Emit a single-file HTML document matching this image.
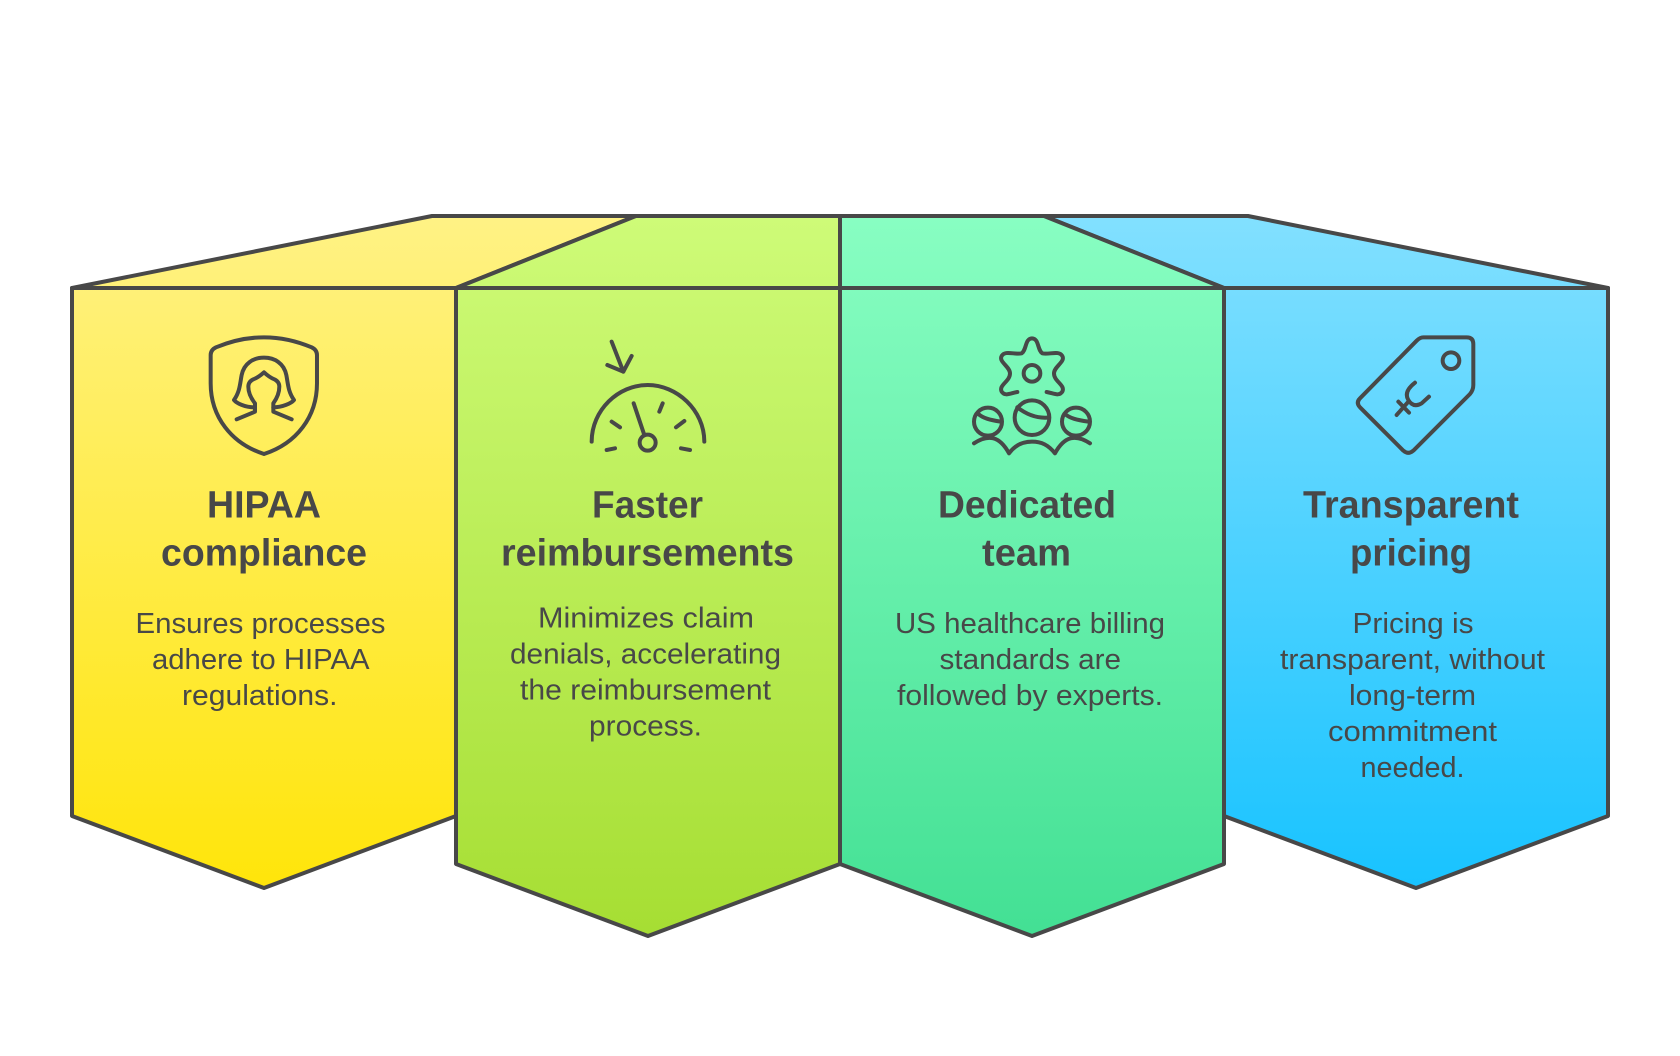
<!DOCTYPE html>
<html><head><meta charset="utf-8"><style>html,body{margin:0;padding:0;background:#fff;width:1680px;height:1056px;overflow:hidden}svg{display:block}text{font-family:"Liberation Sans",sans-serif;fill:#484848}.t{font-size:38px;font-weight:700}.d{font-size:29px}</style></head><body>
<svg xmlns="http://www.w3.org/2000/svg" width="1680" height="1056" viewBox="0 0 1680 1056">
<defs>
<linearGradient id="y" gradientUnits="userSpaceOnUse" x1="0" y1="216" x2="0" y2="888"><stop offset="0" stop-color="#FFF285"/><stop offset="1" stop-color="#FFE50A"/></linearGradient>
<linearGradient id="g" gradientUnits="userSpaceOnUse" x1="0" y1="216" x2="0" y2="936"><stop offset="0" stop-color="#CEFB78"/><stop offset="1" stop-color="#A6DE33"/></linearGradient>
<linearGradient id="e" gradientUnits="userSpaceOnUse" x1="0" y1="216" x2="0" y2="936"><stop offset="0" stop-color="#88FEC2"/><stop offset="1" stop-color="#43E094"/></linearGradient>
<linearGradient id="b" gradientUnits="userSpaceOnUse" x1="0" y1="216" x2="0" y2="888"><stop offset="0" stop-color="#82E0FF"/><stop offset="1" stop-color="#18C3FF"/></linearGradient>
</defs>
<g stroke="#484848" stroke-width="4" stroke-linejoin="round" stroke-linecap="round">
<path fill="url(#y)" d="M72 288L432 216H636L456 288V816L264 888L72 816Z"/>
<path fill="none" d="M72 288H456"/>
<path fill="url(#b)" d="M1044 216H1248L1608 288V816L1416 888L1224 816V288Z"/>
<path fill="none" d="M1224 288H1608"/>
<path fill="url(#g)" d="M636 216H840V864L648 936L456 864V288Z"/>
<path fill="none" d="M456 288H840"/>
<path fill="url(#e)" d="M840 216H1044L1224 288V864L1032 936L840 864Z"/>
<path fill="none" d="M840 288H1224"/>
</g>
<g fill="none" stroke="#484848" stroke-width="12" stroke-linecap="round" stroke-linejoin="round">
<g transform="translate(190 320) scale(.3333)">
<path d="M62 105Q62 90 78 82Q150 52 222 52Q294 52 365 82Q381 90 381 105L381 190C381 290 320 370 222 402C124 370 62 290 62 190Z"/>
<path d="M192 262C165 262 140 250 132 240C150 215 150 190 155 165C162 130 190 113 222 113C254 113 282 130 289 165C294 190 294 215 312 240C304 250 277 262 250 262"/>
<path d="M140 298L195 275V250Q175 225 175 200Q175 185 190 178Q205 172 222 157Q238 172 253 178Q268 185 268 200Q268 225 250 250V275L305 298"/>
</g>
<g transform="translate(575 320) scale(.3333)">
<path d="M50 365C50 270 130 195 218 195C305 195 388 270 388 365"/>
<path d="M176 250L208 345"/><circle cx="218" cy="368" r="24"/>
<path d="M110 305L135 322M263 250L253 275M328 303L303 322M95 390L120 385M318 385L345 390"/>
<path d="M110 65L145 155M97 135L145 155L170 108"/>
</g>
<g transform="translate(960 320) scale(.3333)">
<path d="M172 216C150 220 135 230 125 215C115 195 150 185 150 160C150 140 115 125 125 108C135 90 165 105 185 100C200 90 195 55 216 55C237 55 232 90 247 100C267 105 297 90 307 108C317 125 282 140 282 160C282 185 317 195 307 215C297 230 282 220 260 216"/>
<circle cx="216" cy="160" r="25"/><circle cx="216" cy="293" r="52"/><circle cx="84" cy="305" r="42"/><circle cx="348" cy="305" r="42"/>
<path d="M172 262C195 280 225 295 262 293M55 282C70 295 90 300 122 305M315 282C330 295 350 300 385 305"/>
<path d="M42 370C60 358 80 350 100 355C120 360 135 378 147 400C165 375 190 365 216 365C245 365 265 375 285 400C297 378 312 360 332 355C352 350 372 358 390 370"/>
</g>
<g transform="translate(1345 320) scale(.3333)">
<path d="M235 52H365Q385 52 385 72V195Q385 210 375 222L205 392Q190 405 175 392L45 262Q32 248 45 235L215 62Q225 52 235 52Z"/>
<circle cx="318" cy="122" r="25"/>
<path d="M210 188Q175 215 190 240Q205 265 230 250L252 230M160 245L192 278M155 285L190 245"/>
</g>
</g>
<text class="t" x="207" y="517.5" textLength="114" lengthAdjust="spacingAndGlyphs">HIPAA</text>
<text class="t" x="161" y="565.5" textLength="206" lengthAdjust="spacingAndGlyphs">compliance</text>
<text class="t" x="592" y="517.5" textLength="111" lengthAdjust="spacingAndGlyphs">Faster</text>
<text class="t" x="501" y="565.5" textLength="293" lengthAdjust="spacingAndGlyphs">reimbursements</text>
<text class="t" x="938" y="517.5" textLength="178" lengthAdjust="spacingAndGlyphs">Dedicated</text>
<text class="t" x="982" y="565.5" textLength="89" lengthAdjust="spacingAndGlyphs">team</text>
<text class="t" x="1303" y="517.5" textLength="216" lengthAdjust="spacingAndGlyphs">Transparent</text>
<text class="t" x="1350" y="565.5" textLength="122" lengthAdjust="spacingAndGlyphs">pricing</text>
<text class="d" x="135.5" y="633" textLength="250" lengthAdjust="spacingAndGlyphs">Ensures processes</text>
<text class="d" x="152" y="669" textLength="217.5" lengthAdjust="spacingAndGlyphs">adhere to HIPAA</text>
<text class="d" x="182" y="705" textLength="155.5" lengthAdjust="spacingAndGlyphs">regulations.</text>
<text class="d" x="538" y="627.5" textLength="216" lengthAdjust="spacingAndGlyphs">Minimizes claim</text>
<text class="d" x="510" y="663.5" textLength="271" lengthAdjust="spacingAndGlyphs">denials, accelerating</text>
<text class="d" x="520" y="699.5" textLength="251" lengthAdjust="spacingAndGlyphs">the reimbursement</text>
<text class="d" x="589" y="735.5" textLength="113" lengthAdjust="spacingAndGlyphs">process.</text>
<text class="d" x="895" y="633" textLength="270" lengthAdjust="spacingAndGlyphs">US healthcare billing</text>
<text class="d" x="939.5" y="669" textLength="181.5" lengthAdjust="spacingAndGlyphs">standards are</text>
<text class="d" x="897" y="705" textLength="266" lengthAdjust="spacingAndGlyphs">followed by experts.</text>
<text class="d" x="1352.5" y="633" textLength="121" lengthAdjust="spacingAndGlyphs">Pricing is</text>
<text class="d" x="1280" y="669" textLength="265" lengthAdjust="spacingAndGlyphs">transparent, without</text>
<text class="d" x="1349" y="705" textLength="127" lengthAdjust="spacingAndGlyphs">long-term</text>
<text class="d" x="1328" y="741" textLength="169" lengthAdjust="spacingAndGlyphs">commitment</text>
<text class="d" x="1360.5" y="777" textLength="104" lengthAdjust="spacingAndGlyphs">needed.</text>
</svg>
</body></html>
